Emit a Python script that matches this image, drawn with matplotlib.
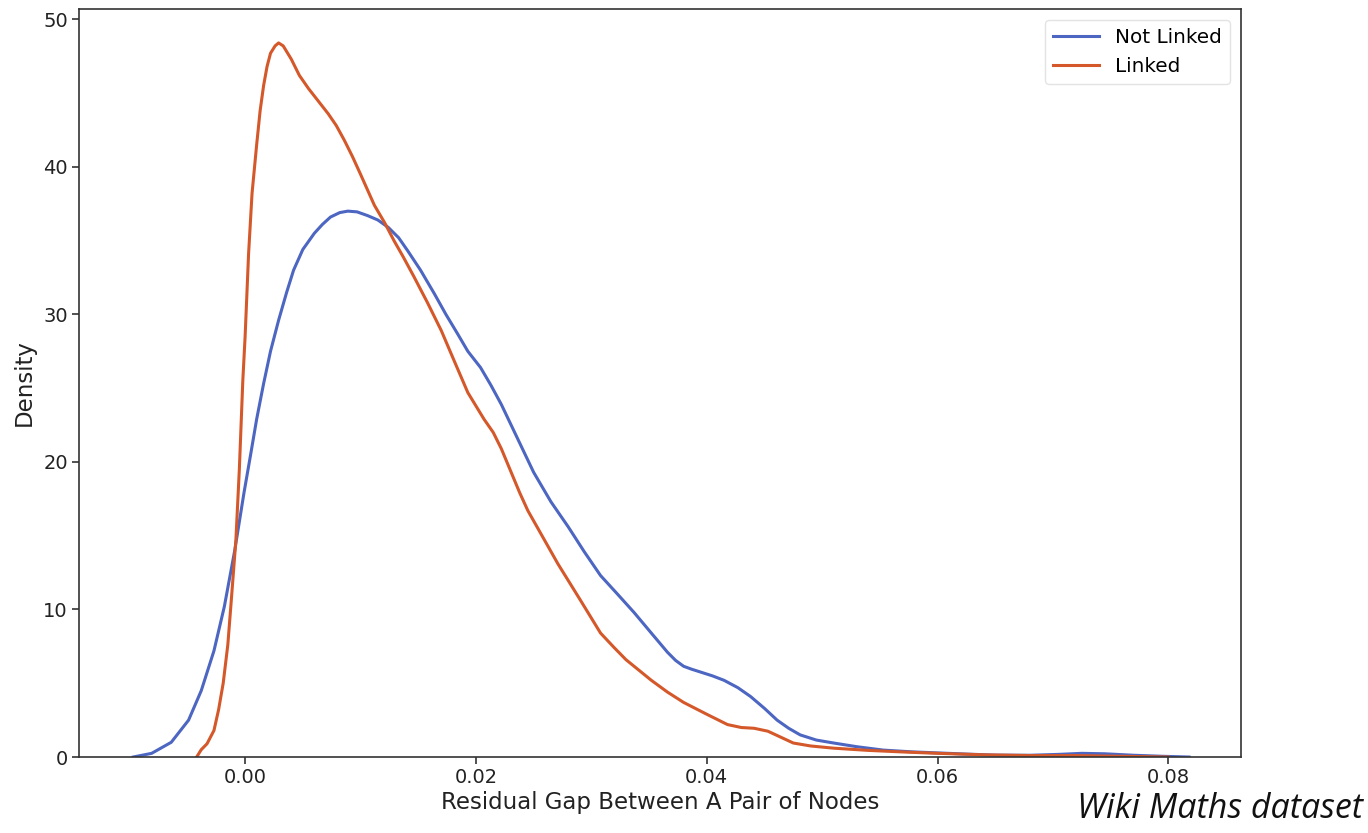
import matplotlib
matplotlib.use("Agg")
import matplotlib.pyplot as plt

# Not Linked (blue) KDE curve
not_linked_x = [-0.0097, -0.0081, -0.0064, -0.0049, -0.0038, -0.0027, -0.0018, -0.0009,
                -0.0001, 0.0005, 0.0010, 0.0016, 0.0022, 0.0029, 0.0036, 0.0042, 0.0050,
                0.0060, 0.0067, 0.0074, 0.0082, 0.0089, 0.0097, 0.0106, 0.0115, 0.0124,
                0.0133, 0.0141, 0.0152, 0.0164, 0.0174, 0.0184, 0.0193, 0.0204, 0.0213,
                0.0222, 0.0236, 0.0250, 0.0265, 0.0280, 0.0294, 0.0308, 0.0322, 0.0337,
                0.0352, 0.0366, 0.0373, 0.0380, 0.0387, 0.0395, 0.0405, 0.0415, 0.0427,
                0.0438, 0.0450, 0.0461, 0.0471, 0.0481, 0.0495, 0.0510, 0.0530, 0.0553,
                0.0578, 0.0600, 0.0625, 0.0650, 0.0680, 0.0705, 0.0725, 0.0745, 0.0770,
                0.0795, 0.0818]
not_linked_y = [0.0, 0.25, 1.0, 2.5, 4.5, 7.2, 10.2, 14.0,
                17.9, 20.6, 22.9, 25.3, 27.5, 29.6, 31.5, 33.0, 34.4,
                35.5, 36.1, 36.6, 36.9, 37.0, 36.95, 36.7, 36.4, 35.9,
                35.2, 34.3, 33.0, 31.4, 30.0, 28.7, 27.5, 26.4, 25.2,
                23.9, 21.6, 19.3, 17.3, 15.6, 13.9, 12.3, 11.1, 9.8,
                8.4, 7.1, 6.55, 6.15, 5.95, 5.75, 5.5, 5.2, 4.7,
                4.1, 3.3, 2.5, 1.95, 1.5, 1.15, 0.95, 0.7, 0.47,
                0.35, 0.28, 0.2, 0.13, 0.12, 0.18, 0.25, 0.22, 0.12,
                0.05, 0.0]

# Linked (orange) KDE curve
linked_x = [-0.0042, -0.0038, -0.0033, -0.0027, -0.0023, -0.0019, -0.0015, -0.0012,
            -0.0008, -0.0005, -0.0002, 0.0000, 0.0003, 0.0006, 0.0010, 0.0013, 0.0016,
            0.0019, 0.0022, 0.0026, 0.0029, 0.0033, 0.0040, 0.0047, 0.0055, 0.0063,
            0.0072, 0.0079, 0.0086, 0.0093, 0.0100, 0.0112, 0.0121, 0.0129, 0.0137,
            0.0146, 0.0158, 0.0170, 0.0182, 0.0193, 0.0200, 0.0207, 0.0215, 0.0222,
            0.0230, 0.0238, 0.0245, 0.0258, 0.0271, 0.0290, 0.0308, 0.0320, 0.0330,
            0.0352, 0.0366, 0.0380, 0.0400, 0.0418, 0.0430, 0.0441, 0.0453, 0.0464,
            0.0475, 0.0490, 0.0510, 0.0540, 0.0568, 0.0600, 0.0640, 0.0680, 0.0720,
            0.0760, 0.0800]
linked_y = [0.0, 0.5, 0.9, 1.8, 3.2, 5.0, 7.6, 10.6,
            14.7, 19.5, 25.5, 28.5, 34.1, 38.2, 41.5, 43.8, 45.5,
            46.8, 47.7, 48.2, 48.4, 48.2, 47.3, 46.2, 45.3, 44.5,
            43.6, 42.8, 41.8, 40.7, 39.5, 37.4, 36.2, 35.0, 33.9,
            32.6, 30.8, 28.9, 26.7, 24.7, 23.8, 22.9, 22.0, 20.9,
            19.4, 17.9, 16.7, 14.9, 13.1, 10.7, 8.4, 7.4, 6.6,
            5.2, 4.4, 3.7, 2.9, 2.2, 2.0, 1.95, 1.75, 1.35,
            0.95, 0.75, 0.6, 0.45, 0.35, 0.25, 0.15, 0.1, 0.1,
            0.05, 0.0]

series_names = ["Not Linked", "Linked"]
series_colors = ["#4C66C2", "#D4582A"]

fig = plt.figure(figsize=(13.68, 8.33), dpi=100)
ax = fig.add_axes([0.0577, 0.0912, 0.8495, 0.898])

ax.plot(not_linked_x, not_linked_y, color=series_colors[0], lw=2.2, label=series_names[0])
ax.plot(linked_x, linked_y, color=series_colors[1], lw=2.2, label=series_names[1])

ax.set_xlim(-0.0144, 0.0863)
ax.set_ylim(0, 50.7)
ax.set_xticks([0.00, 0.02, 0.04, 0.06, 0.08])
ax.set_xticklabels(["0.00", "0.02", "0.04", "0.06", "0.08"])
ax.set_yticks([0, 10, 20, 30, 40, 50])
ax.tick_params(labelsize=14, length=5, width=1.1, pad=3, colors="#222222")
for s in ax.spines.values():
    s.set_linewidth(1.2)
    s.set_color("#333333")

ax.set_xlabel("Residual Gap Between A Pair of Nodes", fontsize=16.5, color="#222222", labelpad=3)
ax.set_ylabel("Density", fontsize=16.5, color="#222222", labelpad=5)

leg = ax.legend(loc="upper right", fontsize=14.4, frameon=True, handlelength=2.3,
                borderaxespad=0.55, handletextpad=0.8)
leg.get_frame().set_edgecolor("#dddddd")

fig.text(0.996, 0.008, "Wiki Maths dataset", fontsize=24.5, style="italic",
         family="Open Sans", ha="right", va="bottom", color="#111111")

fig.savefig("out.png", dpi=100)
